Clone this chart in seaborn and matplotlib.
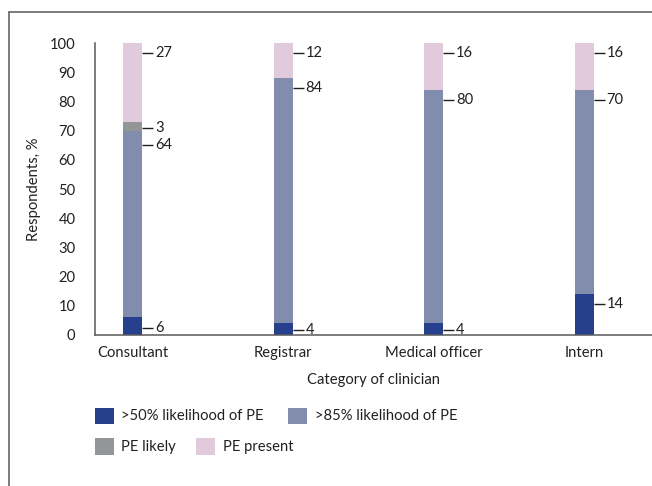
import numpy as np
import pandas as pd
import matplotlib
matplotlib.use("Agg")
import matplotlib.pyplot as plt
from matplotlib.patches import Patch
from matplotlib.lines import Line2D
import seaborn as sns

# data
categories = ["Consultant", "Registrar", "Medical officer", "Intern"]
over50 = [6, 4, 4, 14]
over85 = [64, 84, 80, 70]
pe_likely = [3, 0, 0, 0]
pe_present = [27, 12, 16, 16]
series_names = [">50% likelihood of PE", ">85% likelihood of PE", "PE likely", "PE present"]
colours = ["#26408e", "#828cad", "#939598", "#e1cadb"]

text_col = "#231f20"
line_col = "#58595b"

sns.set_style("white")
plt.rcParams["font.family"] = ["Lato", "DejaVu Sans"]
plt.rcParams["font.size"] = 10.6
plt.rcParams["text.color"] = text_col

df = pd.DataFrame({"category": categories, "s1": over50, "s2": over85,
                   "s3": pe_likely, "s4": pe_present})
cum = df[["s1", "s2", "s3", "s4"]].cumsum(axis=1)

fig = plt.figure(figsize=(6.52, 4.86), dpi=100)
ax = fig.add_axes([0.1457, 0.3107, 0.8543, 0.6008])

bar_w = 0.126
# draw the stack from the top down so each layer covers the one before
for col, colour in zip(["s4", "s3", "s2", "s1"], colours[::-1]):
    sns.barplot(x=df["category"], y=cum[col], color=colour, width=bar_w,
                saturation=1, ax=ax, linewidth=0)

ax.set_ylim(0, 100)
ax.set_xlim(-0.25, 3.45)
ax.set_yticks(np.arange(0, 101, 10))
ax.set_ylabel("Respondents, %", color=text_col, labelpad=6)
ax.set_xlabel("Category of clinician", color=text_col, labelpad=9)
sns.despine(ax=ax)
for s in ["left", "bottom"]:
    ax.spines[s].set_color(line_col)
    ax.spines[s].set_linewidth(1.1)
ax.tick_params(axis="y", length=9, width=1.1, color=line_col, pad=5, labelcolor=text_col)
ax.tick_params(axis="x", length=0, pad=8, labelcolor=text_col)

# value labels with short leader lines
for i in range(len(categories)):
    vals = [over50[i], over85[i], pe_likely[i], pe_present[i]]
    tops = np.cumsum(vals)
    items = []
    for v, t in zip(vals, tops):
        if v > 0:
            items.append([max(t - 3.5, 1.8), v])
    # spread labels that sit too close together
    items.sort(key=lambda a: a[0])
    for k in range(1, len(items)):
        gap = items[k][0] - items[k - 1][0]
        if gap < 5.6:
            d = (5.6 - gap) / 2
            items[k][0] += d
            items[k - 1][0] -= d
    x0 = i + bar_w / 2
    for y, v in items:
        ax.plot([x0, x0 + 0.075], [y, y], color=text_col, lw=1, solid_capstyle="butt")
        ax.text(x0 + 0.085, y, str(v), va="center", ha="left", color=text_col)

# legend, two rows
handles = [Patch(facecolor=c, edgecolor="none") for c in colours]
kw = dict(frameon=False, loc="center left", borderpad=0, borderaxespad=0,
          handlelength=1.3, handleheight=1.3, handletextpad=0.5, ncol=2)
leg1 = fig.legend(handles[:2], series_names[:2], bbox_to_anchor=(0.1457, 0.145),
                  columnspacing=1.65, **kw)
leg2 = fig.legend(handles[2:], series_names[2:], bbox_to_anchor=(0.1457, 0.0813),
                  columnspacing=1.35, **kw)

# outer frame (left and top edges)
fig.add_artist(Line2D([8.5 / 652, 8.5 / 652], [0, 1 - 12.5 / 486], transform=fig.transFigure,
                      color=line_col, lw=1.1))
fig.add_artist(Line2D([8.5 / 652, 1], [1 - 12.5 / 486, 1 - 12.5 / 486], transform=fig.transFigure,
                      color=line_col, lw=1.1))

fig.savefig("out.png", dpi=100)
